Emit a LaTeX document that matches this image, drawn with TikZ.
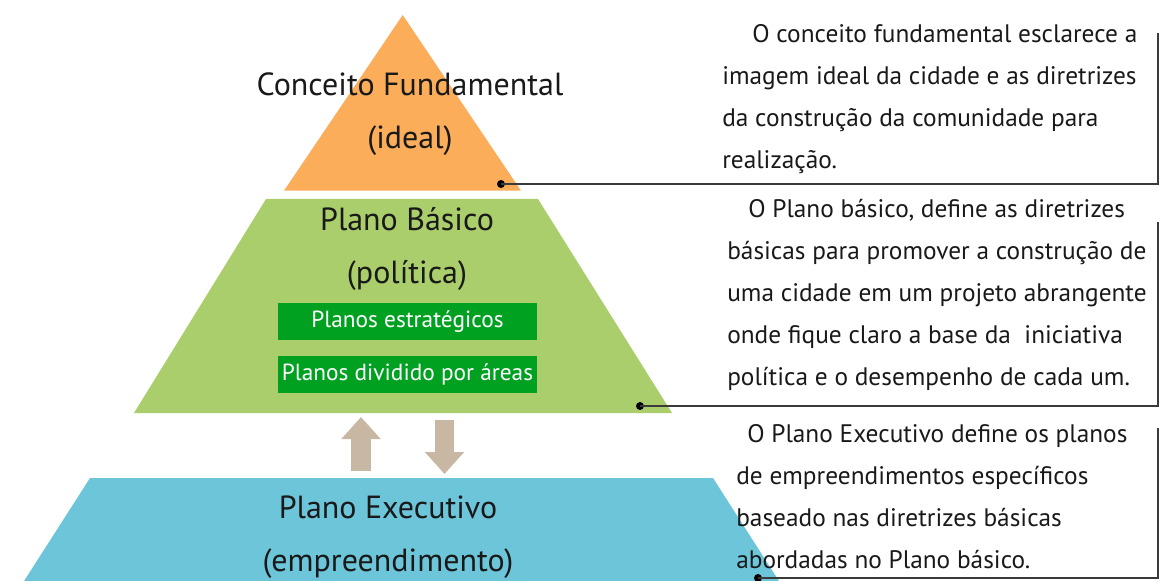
\documentclass[tikz,border=0pt]{standalone}
\usepackage{fontspec}
\setmainfont{PT Sans}
\usepackage{tikz}
\usetikzlibrary{positioning,arrows.meta}

\definecolor{ideal}{HTML}{FBAD5A}
\definecolor{politica}{HTML}{A9CE6B}
\definecolor{empreend}{HTML}{6DC5DA}
\definecolor{planobox}{HTML}{00A021}
\definecolor{setacor}{HTML}{C8B7A2}
\definecolor{linha}{HTML}{3A3A3A}

\begin{document}
\begin{tikzpicture}[x=0.75pt, y=-0.75pt,
    nivel/.style={font=\fontsize{24}{39.5}\selectfont, align=center, text=black!90},
    plano/.style={fill=planobox, text=white, font=\fontsize{17.5}{20}\selectfont, minimum width=194pt, minimum height=27.75pt, inner sep=0pt},
    desc/.style={font=\fontsize{19}{31.5}\selectfont, align=left, anchor=north west, inner sep=0pt, text=black!90},
    ponto/.style={circle, fill=black, inner sep=0pt, minimum size=6pt},
    bloco/.style={line width=14.5pt, draw=setacor, -{Triangle[width=28.5pt,length=16.5pt]}},
    conector/.style={draw=linha, line width=0.9pt}]
    \useasboundingbox (0,0) rectangle (1160,581);
    \clip (0,0) rectangle (1160,581);

    % piramide
    \fill[ideal] (402.7,15) -- (521,190.7) -- (284,190.7) -- cycle;
    \fill[politica] (266,199) -- (538,199) -- (672,413) -- (134,413) -- cycle;
    \fill[empreend] (90,478) -- (713,478) -- (786,592) -- (17,592) -- cycle;

    \node[nivel] (conceito) at (410,114) {Conceito Fundamental\\(ideal)};
    \node[nivel] (basico) at (407,249) {Plano Básico\\(política)};
    \node[plano] (estrategicos) at (407.5,321.5) {Planos estratégicos};
    \node[plano, below=11.25pt of estrategicos] (areas) {Planos dividido por áreas};
    \node[nivel] (executivo) at (388,537) {Plano Executivo\\(empreendimento)};

    % setas entre os niveis
    \coordinate (sobeIni) at (361,471);
    \coordinate (sobeFim) at (361,417);
    \coordinate (desceIni) at (444.5,420);
    \coordinate (desceFim) at (444.5,474);
    \draw[bloco] (sobeIni) -- (sobeFim);
    \draw[bloco] (desceIni) -- (desceFim);

    % textos
    \node[desc] (descConceito) at (722,24) {\hspace*{22.5pt}O conceito fundamental esclarece a\\imagem ideal da cidade e as diretrizes\\da construção da comunidade para\\realização.};
    \node[desc] (descBasico) at (727,199) {\hspace*{15.75pt}O Plano básico, define as diretrizes\\básicas para promover a construção de\\uma cidade em um projeto abrangente\\onde fique claro a base da \ iniciativa\\política e o desempenho de cada um.};
    \node[desc] (descExecutivo) at (736,424) {\hspace*{8.25pt}O Plano Executivo define os planos\\de empreendimentos específicos\\baseado nas diretrizes básicas\\abordadas no Plano básico.};

    % conectores
    \node[ponto] (pontoConceito) at (501,184) {};
    \coordinate (cantoConceito) at (1158,184);
    \coordinate (topoConceito) at (1158,33);
    \draw[conector] (pontoConceito.center) -- (cantoConceito) -- (topoConceito);

    \node[ponto] (pontoBasico) at (640,406) {};
    \coordinate (cantoBasico) at (1158,406);
    \coordinate (topoBasico) at (1158,222);
    \draw[conector] (pontoBasico.center) -- (cantoBasico) -- (topoBasico);

    \node[ponto] (pontoExecutivo) at (758,578) {};
    \coordinate (cantoExecutivo) at (1158,578);
    \coordinate (topoExecutivo) at (1158,428);
    \draw[conector] (pontoExecutivo.center) -- (cantoExecutivo) -- (topoExecutivo);
\end{tikzpicture}
\end{document}
